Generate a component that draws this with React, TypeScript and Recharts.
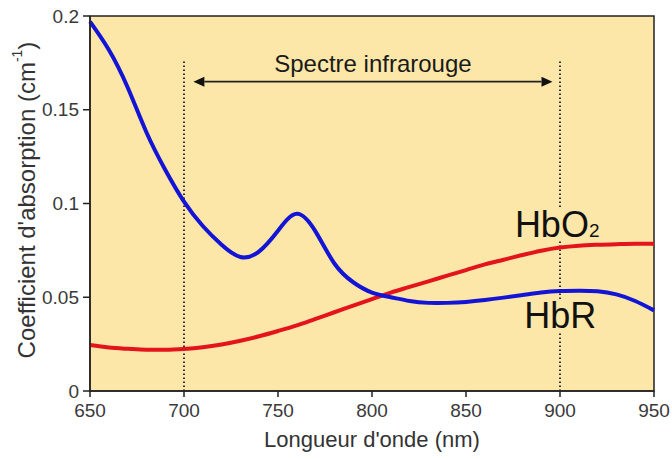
import {
  LineChart,
  Line,
  XAxis,
  YAxis,
  CartesianGrid,
  ReferenceLine,
  ReferenceArea,
  ReferenceDot,
  Label,
} from "recharts";

const wavelengths = [
  650, 660, 670, 680, 690, 700, 710, 720, 730, 740, 750, 760, 770, 780, 790,
  800, 810, 820, 830, 840, 850, 860, 870, 880, 890, 900, 910, 920, 930, 940,
  950,
];

// HbR (désoxyhémoglobine)
const hbr = [
  0.197, 0.182, 0.162, 0.138, 0.118, 0.101, 0.088, 0.078, 0.0715, 0.0745,
  0.0855, 0.0945, 0.085, 0.068, 0.058, 0.0525, 0.05, 0.048, 0.047, 0.047,
  0.0475, 0.0485, 0.0498, 0.0512, 0.0525, 0.0533, 0.0535, 0.0532, 0.0515,
  0.048, 0.043,
];

// HbO2 (oxyhémoglobine)
const hbo2 = [
  0.0245, 0.0232, 0.0225, 0.022, 0.022, 0.0224, 0.0233, 0.0248, 0.0268,
  0.0292, 0.032, 0.035, 0.0385, 0.042, 0.0455, 0.049, 0.0525, 0.0555, 0.0585,
  0.0615, 0.0645, 0.0675, 0.07, 0.0725, 0.0748, 0.0765, 0.0775, 0.078, 0.0783,
  0.0785, 0.0785,
];

const xTicks = [650, 700, 750, 800, 850, 900, 950];
const yTicks = [0, 0.05, 0.1, 0.15, 0.2];

const data = wavelengths.map((wl, i) => ({ wl, hbr: hbr[i], hbo2: hbo2[i] }));

const FONT = "'Liberation Sans', Arial, sans-serif";
const BG = "#fce7a8";

function SpectrumArrow(props: any) {
  const { x1, y1, x2, y2 } = props;
  const head = 11;
  return (
    <g>
      <line
        x1={x1 + head}
        y1={y1}
        x2={x2 - head}
        y2={y2}
        stroke="#222"
        strokeWidth={1.6}
      />
      <polygon
        points={`${x1},${y1} ${x1 + head},${y1 - 5} ${x1 + head},${y1 + 5}`}
        fill="#111"
      />
      <polygon
        points={`${x2},${y2} ${x2 - head},${y2 - 5} ${x2 - head},${y2 + 5}`}
        fill="#111"
      />
      <text
        x={(x1 + x2) / 2}
        y={y1 - 10}
        textAnchor="middle"
        fontSize={24}
        fontFamily={FONT}
        fill="#1a1a1a"
      >
        Spectre infrarouge
      </text>
    </g>
  );
}

function HbO2Label(props: any) {
  const { cx, cy } = props;
  return (
    <g>
      <rect x={cx} y={cy - 29} width={90} height={32} fill={BG} />
      <text x={cx} y={cy} fontSize={36} fontFamily={FONT} fill="#111">
        HbO
        <tspan fontSize={19}>2</tspan>
      </text>
    </g>
  );
}

function HbRLabel(props: any) {
  const { cx, cy } = props;
  return (
    <g>
      <rect x={cx} y={cy - 29} width={76} height={34} fill={BG} />
      <text x={cx} y={cy} fontSize={36} fontFamily={FONT} fill="#111">
        HbR
      </text>
    </g>
  );
}

export default function App() {
  return (
    <div style={{ position: "absolute", left: 0, top: 0, background: "#fff" }}>
      <LineChart
        width={672}
        height={459}
        data={data}
        margin={{ top: 16, right: 18, bottom: 0, left: 0 }}
        style={{ fontFamily: FONT }}
      >
        <CartesianGrid fill={BG} horizontal={false} vertical={false} />
        <ReferenceArea
          x1={650}
          x2={950}
          y1={0}
          y2={0.2}
          fill="none"
          fillOpacity={0}
          stroke="#222"
          strokeWidth={1.5}
        />
        <XAxis
          dataKey="wl"
          type="number"
          domain={[650, 950]}
          ticks={xTicks}
          height={68}
          tickSize={6}
          tickMargin={7}
          stroke="#222"
          strokeWidth={1.5}
          tick={{ fontSize: 19, fill: "#3a3a3a" }}
        >
          <Label
            value="Longueur d'onde (nm)"
            position="insideBottom"
            offset={12}
            fontSize={22}
            fill="#333"
          />
        </XAxis>
        <YAxis
          type="number"
          domain={[0, 0.2]}
          ticks={yTicks}
          width={90}
          tickSize={7}
          tickMargin={4}
          stroke="#222"
          strokeWidth={1.5}
          tick={{ fontSize: 19, fill: "#3a3a3a" }}
          tickFormatter={(v: number) => String(v)}
        >
          <Label
            content={() => (
              <text
                x={26}
                y={200}
                transform="rotate(-90 26 200)"
                textAnchor="middle"
                dominantBaseline="central"
                fontSize={24}
                fontFamily={FONT}
                fill="#333"
              >
                Coefficient d'absorption (cm
                <tspan dy={-9} fontSize={14}>
                  -1
                </tspan>
                <tspan dy={9}>)</tspan>
              </text>
            )}
          />
        </YAxis>
        <ReferenceLine
          segment={[
            { x: 700, y: 0 },
            { x: 700, y: 0.177 },
          ]}
          stroke="#333"
          strokeWidth={2}
          strokeDasharray="1.5 2.5"
        />
        <ReferenceLine
          segment={[
            { x: 900, y: 0 },
            { x: 900, y: 0.177 },
          ]}
          stroke="#333"
          strokeWidth={2}
          strokeDasharray="1.5 2.5"
        />
        <ReferenceLine
          segment={[
            { x: 705, y: 0.165 },
            { x: 896, y: 0.165 },
          ]}
          shape={SpectrumArrow}
        />
        <ReferenceDot x={876} y={0.082} r={0} shape={HbO2Label} />
        <ReferenceDot x={881} y={0.0336} r={0} shape={HbRLabel} />
        <Line
          type="monotone"
          dataKey="hbo2"
          stroke="#e3141b"
          strokeWidth={4}
          dot={false}
          isAnimationActive={false}
        />
        <Line
          type="natural"
          dataKey="hbr"
          stroke="#1414d6"
          strokeWidth={4}
          dot={false}
          isAnimationActive={false}
        />
      </LineChart>
    </div>
  );
}
